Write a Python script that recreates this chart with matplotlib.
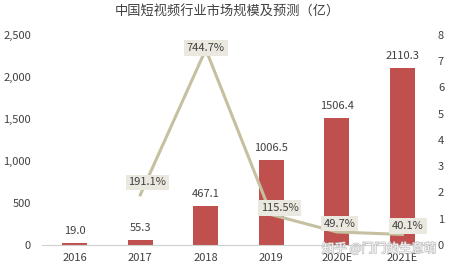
import matplotlib.pyplot as plt
import matplotlib.patheffects as pe
import numpy as np

plt.rcParams['font.family'] = ['Noto Sans CJK SC', 'DejaVu Sans']

years = ["2016", "2017", "2018", "2019", "2020E", "2021E"]
market_size = [19.0, 55.3, 467.1, 1006.5, 1506.4, 2110.3]
growth_years = ["2017", "2018", "2019", "2020E", "2021E"]
growth_rate = [1.911, 7.447, 1.155, 0.497, 0.401]

bar_color = "#c0504d"
line_color = "#c4c0a0"
text_color = "#404040"

fig = plt.figure(figsize=(4.54, 2.70), dpi=100)
ax = fig.add_axes([0.0925, 0.0926, 0.866, 0.778])
ax2 = ax.twinx()

x = np.arange(len(years))
ax.bar(x, market_size, width=0.38, color=bar_color, zorder=2)
for xi, v in zip(x, market_size):
    ax.annotate(f"{v:.1f}", (xi, v), xytext=(0, 5), textcoords="offset points",
                ha="center", va="bottom", fontsize=8, color=text_color)

ax.set_xlim(-0.5, len(years) - 0.5)
ax.set_ylim(0, 2500)
ax.set_yticks([0, 500, 1000, 1500, 2000, 2500])
ax.set_yticklabels(["0", "500", "1,000", "1,500", "2,000", "2,500"])
ax.set_xticks(x)
ax.set_xticklabels(years)

# growth rate line on secondary axis
gx = [years.index(y) for y in growth_years]
ax2.plot(gx, growth_rate, color=line_color, lw=2.2, zorder=3)
# label nudges in points, so the boxes sit like the original
nudges = [(5, 9), (0, 1), (6, 5), (2, 6), (4, 6)]
for xi, v, (dx, dy) in zip(gx, growth_rate, nudges):
    ax2.annotate(f"{v * 100:.1f}%", (xi, v), xytext=(dx, dy), textcoords="offset points",
                 ha="center", va="center", fontsize=8, color=text_color,
                 bbox=dict(boxstyle="square,pad=0.25", fc="#ebe8df", ec="none"))
ax2.set_ylim(0, 8)
ax2.set_yticks(range(9))

for a in (ax, ax2):
    for s in a.spines.values():
        s.set_visible(False)
    a.tick_params(length=0, labelsize=8, colors=text_color)
ax.spines["bottom"].set_visible(True)
ax.spines["bottom"].set_color("#d0d0d0")
ax.tick_params(axis="x", pad=6)
ax.tick_params(axis="y", pad=8)
ax2.tick_params(axis="y", pad=2)

fig.text(0.5, 0.955, "中国短视频行业市场规模及预测（亿）", ha="center", va="center",
         fontsize=9.5, color=text_color)

# watermark
fig.text(0.835, 0.08, "知乎 @门门的生意萌", ha="center", va="center", fontsize=9,
         color="white", alpha=0.85,
         path_effects=[pe.withStroke(linewidth=1.0, foreground="#b8b8b8")])

fig.savefig("out.png", dpi=100)
